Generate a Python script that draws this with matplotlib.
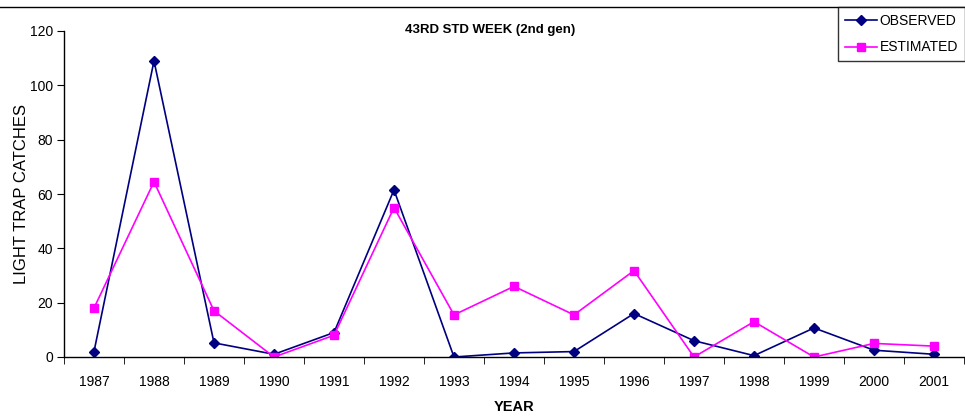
import matplotlib
matplotlib.use("Agg")
import matplotlib.pyplot as plt
from matplotlib.lines import Line2D

years = ["1987", "1988", "1989", "1990", "1991", "1992", "1993", "1994",
         "1995", "1996", "1997", "1998", "1999", "2000", "2001"]
observed = [2, 109, 5.2, 1, 9, 61.5, 0, 1.5, 2, 16, 6, 0.5, 10.7, 2.5, 1]
estimated = [18, 64.5, 17, 0, 8, 55, 15.5, 26, 15.5, 31.8, 0, 13, 0, 5, 4]
yticks = [0, 20, 40, 60, 80, 100, 120]

plt.rcParams['font.family'] = ['Liberation Sans', 'DejaVu Sans']

fig = plt.figure(figsize=(9.65, 4.17), dpi=100)
ax = fig.add_axes([64/965, 1-357/417, 900/965, (357-31)/417])

x = list(range(len(years)))
ax.plot(x, observed, color='#000080', marker='D', markersize=5, linewidth=1.2, label='OBSERVED')
ax.plot(x, estimated, color='#FF00FF', marker='s', markersize=6, linewidth=1.2, label='ESTIMATED')

ax.set_xlim(-0.5, len(years) - 0.5)
ax.set_ylim(0, 120)
ax.set_yticks(yticks)
ax.set_yticklabels([str(v) for v in yticks], fontsize=10)
ax.set_xticks(x)
ax.set_xticklabels(years, fontsize=10)
ax.tick_params(axis='x', which='major', length=0, pad=13)
ax.set_xticks([i - 0.5 for i in range(len(years) + 1)], minor=True)
ax.tick_params(axis='x', which='minor', length=5, direction='out', color='black')
ax.tick_params(axis='y', length=5, direction='out', pad=3)
for s in ['top', 'right']:
    ax.spines[s].set_visible(False)
for s in ['left', 'bottom']:
    ax.spines[s].set_color('black')
    ax.spines[s].set_linewidth(1)

ax.set_ylabel('LIGHT TRAP CATCHES', fontsize=12, va='center')
ax.yaxis.set_label_coords((22 - 64) / 900, 0.5)
ax.set_xlabel('YEAR', fontsize=10.5, fontweight='bold', labelpad=8)

fig.text(490/965, 1-30/417, '43RD STD WEEK (2nd gen)', fontsize=9.5, fontweight='bold',
         ha='center', va='center')

# chart area top border
fig.add_artist(Line2D([0, 1], [1-7/417, 1-7/417], color='black', linewidth=1))

leg = fig.legend(loc='upper right', bbox_to_anchor=(1.0, 1-7/417), fontsize=10,
                 frameon=True, fancybox=False, edgecolor='black', borderpad=0.5,
                 handlelength=2.3, handletextpad=0.2, labelspacing=0.9, borderaxespad=0)
leg.get_frame().set_linewidth(1)

fig.savefig('out.png', dpi=100)
